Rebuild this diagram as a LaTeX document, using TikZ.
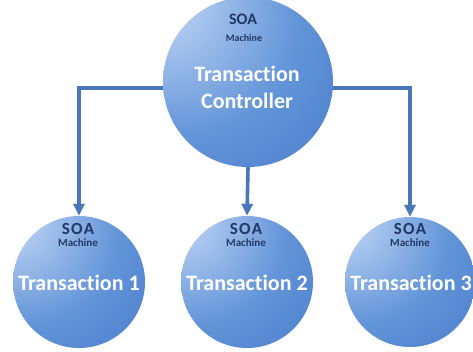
\documentclass[tikz,border=0pt]{standalone}
\usepackage{fontspec}
\setmainfont{Carlito}[Ligatures={NoCommon,NoContextual}]
\usetikzlibrary{arrows.meta,backgrounds}

\definecolor{sphLight}{RGB}{196,216,246}
\definecolor{sphMid}{RGB}{98,148,216}
\definecolor{sphDark}{RGB}{62,114,198}
\definecolor{linkBlue}{RGB}{74,118,186}
\definecolor{soaText}{RGB}{35,55,100}

% soft sphere look: light from the upper left
\pgfdeclareradialshading{sphere}{\pgfpoint{-30bp}{28bp}}{%
  color(0bp)=(sphLight); color(4bp)=(sphLight);
  color(34bp)=(sphMid); color(66bp)=(sphDark); color(95bp)=(sphDark)}

\tikzset{
  orb/.style={circle, inner sep=0pt, shading=sphere, minimum size=#1},
  soa/.style={text=soaText, font=\bfseries\fontsize{16}{18}\selectfont, inner sep=0pt},
  soabig/.style={text=soaText, font=\bfseries\addfontfeature{LetterSpace=8}\fontsize{17}{19}\selectfont, inner sep=0pt},
  machine/.style={text=soaText, font=\bfseries\fontsize{10}{11}\selectfont, inner sep=0pt},
  machinebig/.style={text=soaText, font=\bfseries\fontsize{11}{12}\selectfont, inner sep=0pt},
  title/.style={text=white, font=\bfseries\fontsize{22}{27}\selectfont, inner sep=0pt, align=center},
  conn/.style={draw=linkBlue, line width=3.6pt},
  tip/.style={-{Triangle[width=11pt,length=12pt]}}
}

\begin{document}
\begin{tikzpicture}[x=1pt,y=-1pt]
  \begin{pgfonlayer}{background}
    \fill[white] (0,0) rectangle (473,351);
  \end{pgfonlayer}
  \useasboundingbox (0,0) rectangle (473,351);

  % machines
  \node[orb=170pt] (ctrl) at (248,82) {};
  \node[orb=132pt] (t1) at (79,282) {};
  \node[orb=132pt] (t2) at (247,282) {};
  \node[orb=130pt] (t3) at (410,282) {};

  % connectors: the bus runs behind the controller
  \coordinate (bus) at (248,88);
  \begin{pgfonlayer}{background}
    \draw[conn, tip] (bus) -| (t1.north);
    \draw[conn, tip] (bus) -| (t3.north);
  \end{pgfonlayer}
  \draw[conn, tip] (ctrl.south) -- (t2.north);

  % labels of the controller
  \node[soa] (ctrl-soa) at (243,19) {SOA};
  \node[machine] (ctrl-mach) at (244,38) {Machine};
  \node[title] (ctrl-name) at (247,87) {Transaction\\Controller};

  % labels of the transactions
  \node[soabig] (t1-soa) at (78,229) {SOA};
  \node[machinebig] (t1-mach) at (78,243) {Machine};
  \node[title] (t1-name) at (79,283) {Transaction 1};

  \node[soabig] (t2-soa) at (246,229) {SOA};
  \node[machinebig] (t2-mach) at (246,243) {Machine};
  \node[title] (t2-name) at (247,283) {Transaction 2};

  \node[soabig] (t3-soa) at (410,229) {SOA};
  \node[machinebig] (t3-mach) at (410,243) {Machine};
  \node[title] (t3-name) at (411,283) {Transaction 3};
\end{tikzpicture}
\end{document}
